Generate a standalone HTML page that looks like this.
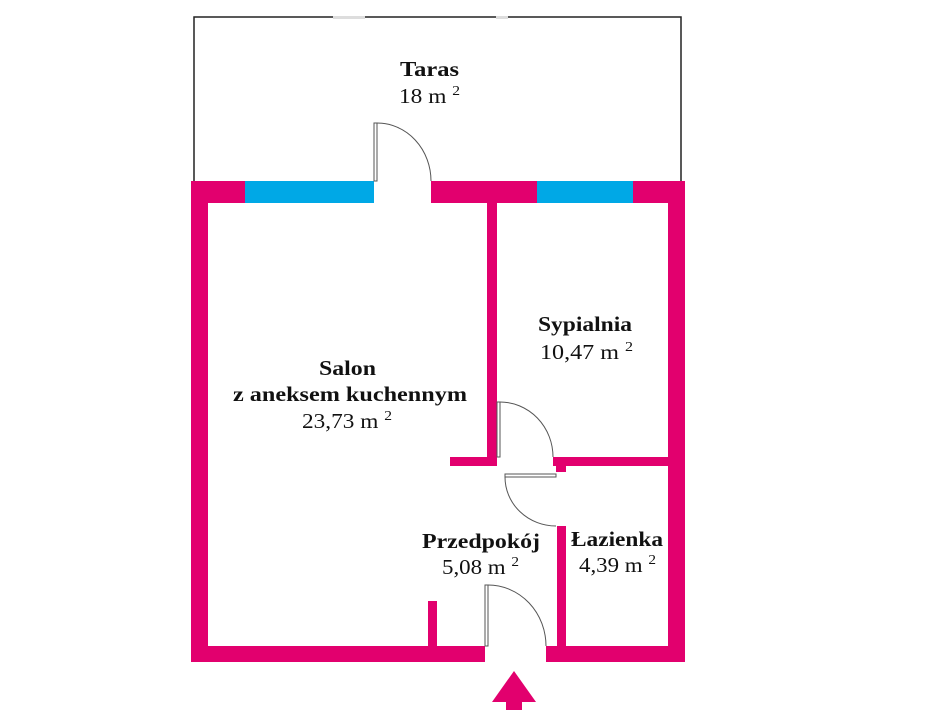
<!DOCTYPE html>
<html><head><meta charset="utf-8"><style>html,body{margin:0;padding:0;background:#fff}svg{display:block}</style></head>
<body>
<svg width="947" height="710" viewBox="0 0 947 710" xmlns="http://www.w3.org/2000/svg" font-family="Liberation Serif, serif" font-size="21" fill="#111">
<!-- terrace -->
<path d="M194 181 V17 H681 V181" fill="none" stroke="#222" stroke-width="1.5"/>
<rect x="333" y="16" width="32" height="3" fill="#ddd"/>
<rect x="496" y="16" width="12" height="3" fill="#ddd"/>
<g fill="#e2006e">
<rect x="191" y="181" width="494" height="22"/>
<rect x="191" y="181" width="17" height="481"/>
<rect x="668" y="181" width="17" height="481"/>
<rect x="191" y="646" width="294" height="16"/>
<rect x="546" y="646" width="139" height="16"/>
<rect x="487" y="203" width="10" height="263"/>
<rect x="450" y="457" width="47" height="9"/>
<rect x="553" y="457" width="115" height="9"/>
<rect x="556" y="457" width="10" height="15"/>
<rect x="557" y="526" width="9" height="120"/>
<rect x="428" y="601" width="9" height="45"/>
<path d="M514 671 L536 702 H522 V710 H506 V702 H492 Z"/>
</g>
<rect x="245" y="181" width="129" height="22" fill="#00a8e6"/>
<rect x="537" y="181" width="96" height="22" fill="#00a8e6"/>
<rect x="374" y="181" width="57" height="22" fill="#fff"/>
<g fill="none" stroke="#555" stroke-width="1">
<rect x="374" y="123" width="3" height="58" fill="#fff"/>
<path d="M377 123 A54 58 0 0 1 431 181"/>
<rect x="497" y="402" width="3" height="55" fill="#fff"/>
<path d="M500 402 A53 55 0 0 1 553 457"/>
<rect x="505" y="474" width="51" height="3" fill="#fff"/>
<path d="M505 477 A51 49 0 0 0 556 526"/>
<rect x="485" y="585" width="3" height="61" fill="#fff"/>
<path d="M488 585 A58 61 0 0 1 546 646"/>
</g>
<g text-anchor="start">
<text x="400" y="76" font-weight="bold" textLength="59" lengthAdjust="spacingAndGlyphs">Taras</text>
<text x="399" y="103" textLength="61" lengthAdjust="spacingAndGlyphs">18 m <tspan font-size="14" dy="-8">2</tspan></text>
<text x="319" y="375" font-weight="bold" textLength="57" lengthAdjust="spacingAndGlyphs">Salon</text>
<text x="233" y="401" font-weight="bold" textLength="234" lengthAdjust="spacingAndGlyphs">z aneksem kuchennym</text>
<text x="302" y="428" textLength="90" lengthAdjust="spacingAndGlyphs">23,73 m <tspan font-size="14" dy="-8">2</tspan></text>
<text x="538" y="331" font-weight="bold" textLength="94" lengthAdjust="spacingAndGlyphs">Sypialnia</text>
<text x="540" y="359" textLength="93" lengthAdjust="spacingAndGlyphs">10,47 m <tspan font-size="14" dy="-8">2</tspan></text>
<text x="422" y="548" font-weight="bold" textLength="118" lengthAdjust="spacingAndGlyphs">Przedpokój</text>
<text x="442" y="574" textLength="77" lengthAdjust="spacingAndGlyphs">5,08 m <tspan font-size="14" dy="-8">2</tspan></text>
<text x="571" y="546" font-weight="bold" textLength="92" lengthAdjust="spacingAndGlyphs">Łazienka</text>
<text x="579" y="572" textLength="77" lengthAdjust="spacingAndGlyphs">4,39 m <tspan font-size="14" dy="-8">2</tspan></text>
</g>
</svg>
</body></html>
